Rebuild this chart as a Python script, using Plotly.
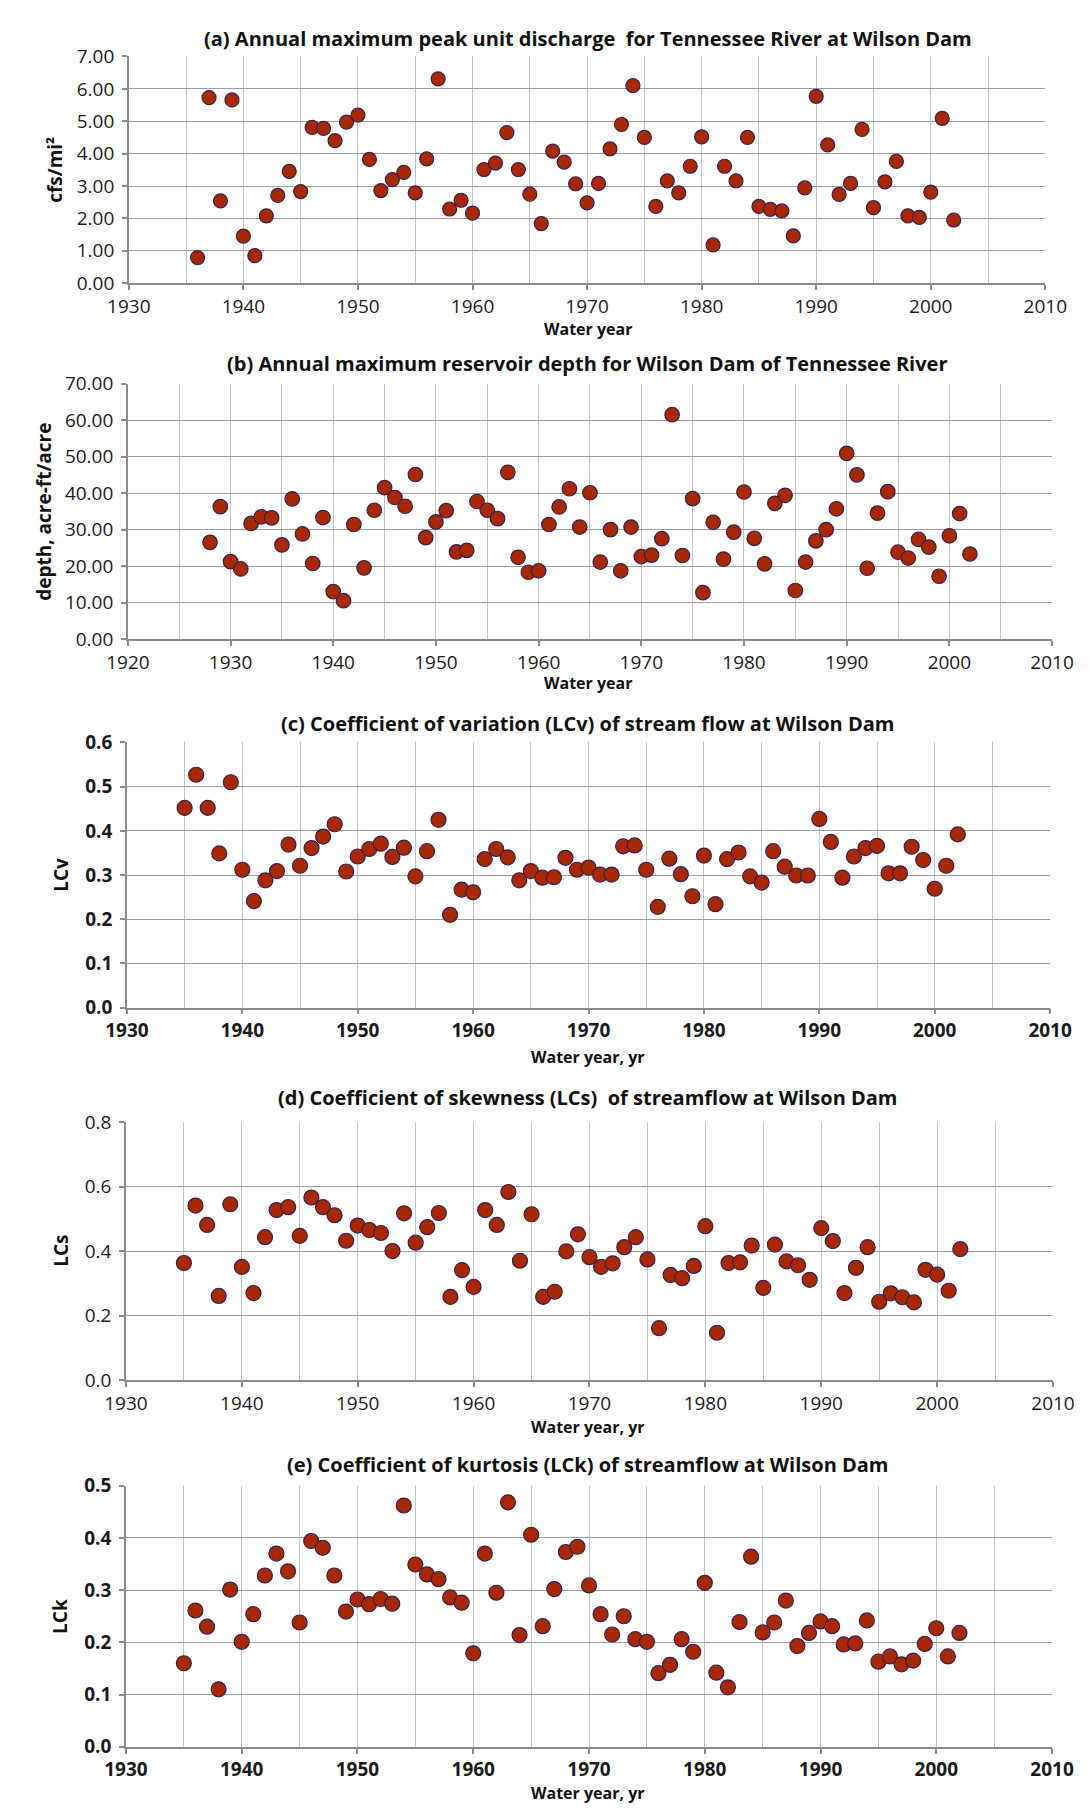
import plotly.graph_objects as go

W, H = 1091, 1809

# ---------------- data ----------------
years_a = list(range(1936, 2003))
peak_discharge = [0.79, 5.73, 2.54, 5.66, 1.45, 0.85, 2.08, 2.71, 3.45, 2.83,
                  4.81, 4.78, 4.40, 4.97, 5.19, 3.82, 2.86, 3.20, 3.42, 2.79,
                  3.84, 6.31, 2.29, 2.56, 2.16, 3.51, 3.71, 4.65, 3.51, 2.75,
                  1.84, 4.08, 3.74, 3.07, 2.48, 3.08, 4.15, 4.90, 6.10, 4.50,
                  2.37, 3.16, 2.79, 3.61, 4.52, 1.18, 3.61, 3.16, 4.50, 2.37,
                  2.28, 2.23, 1.46, 2.94, 5.77, 4.27, 2.74, 3.08, 4.75, 2.33,
                  3.13, 3.76, 2.08, 2.03, 2.81, 5.09, 1.95]

years_b = list(range(1928, 2003))
reservoir_depth = [26.5, 36.3, 21.2, 19.2, 31.7, 33.5, 33.2, 25.8, 38.4, 28.8,
                   20.7, 33.3, 13.0, 10.5, 31.4, 19.5, 35.3, 41.5, 38.8, 36.4,
                   45.1, 27.8, 32.1, 35.2, 23.9, 24.3, 37.7, 35.3, 33.0, 45.7,
                   22.4, 18.3, 18.7, 31.4, 36.2, 41.2, 30.7, 40.1, 21.1, 30.0,
                   18.7, 30.7, 22.6, 23.0, 27.5, 61.5, 22.9, 38.5, 12.7, 32.0,
                   21.9, 29.3, 40.3, 27.6, 20.6, 37.2, 39.4, 13.3, 21.1, 26.9,
                   30.0, 35.7, 50.9, 45.0, 19.4, 34.5, 40.4, 23.8, 22.2, 27.3,
                   25.2, 17.2, 28.3, 34.4, 23.3]

years_l = list(range(1935, 2003))
lcv = [0.452, 0.527, 0.452, 0.349, 0.510, 0.312, 0.241, 0.288, 0.309, 0.369,
       0.321, 0.361, 0.387, 0.415, 0.308, 0.342, 0.359, 0.371, 0.341, 0.362,
       0.297, 0.354, 0.425, 0.210, 0.267, 0.261, 0.336, 0.359, 0.340, 0.288,
       0.309, 0.294, 0.295, 0.339, 0.312, 0.317, 0.301, 0.301, 0.365, 0.367,
       0.312, 0.228, 0.337, 0.302, 0.252, 0.344, 0.234, 0.336, 0.351, 0.297,
       0.283, 0.354, 0.319, 0.299, 0.299, 0.427, 0.375, 0.294, 0.342, 0.361,
       0.366, 0.304, 0.304, 0.364, 0.334, 0.269, 0.321, 0.392]
lcs = [0.363, 0.541, 0.481, 0.261, 0.545, 0.351, 0.270, 0.443, 0.527, 0.536,
       0.447, 0.566, 0.536, 0.511, 0.432, 0.479, 0.465, 0.456, 0.400, 0.517,
       0.426, 0.474, 0.518, 0.258, 0.341, 0.289, 0.527, 0.481, 0.583, 0.370,
       0.514, 0.258, 0.274, 0.399, 0.452, 0.381, 0.351, 0.362, 0.412, 0.443,
       0.374, 0.161, 0.326, 0.316, 0.354, 0.477, 0.147, 0.363, 0.365, 0.417,
       0.286, 0.420, 0.368, 0.356, 0.311, 0.471, 0.431, 0.270, 0.348, 0.412,
       0.243, 0.269, 0.257, 0.241, 0.342, 0.327, 0.277, 0.406]
lck = [0.160, 0.261, 0.230, 0.110, 0.301, 0.201, 0.254, 0.328, 0.370, 0.336,
       0.238, 0.394, 0.381, 0.328, 0.259, 0.282, 0.273, 0.283, 0.274, 0.462,
       0.349, 0.330, 0.321, 0.286, 0.276, 0.179, 0.370, 0.295, 0.468, 0.214,
       0.406, 0.231, 0.302, 0.373, 0.383, 0.309, 0.254, 0.215, 0.250, 0.206,
       0.201, 0.141, 0.157, 0.206, 0.182, 0.314, 0.142, 0.114, 0.239, 0.364,
       0.219, 0.238, 0.280, 0.193, 0.218, 0.240, 0.231, 0.196, 0.198, 0.242,
       0.163, 0.173, 0.158, 0.165, 0.197, 0.227, 0.173, 0.218]

titles = ["(a) Annual maximum peak unit discharge  for Tennessee River at Wilson Dam",
          "(b) Annual maximum reservoir depth for Wilson Dam of Tennessee River",
          "(c) Coefficient of variation (LCv) of stream flow at Wilson Dam",
          "(d) Coefficient of skewness (LCs)  of streamflow at Wilson Dam",
          "(e) Coefficient of kurtosis (LCk) of streamflow at Wilson Dam"]
y_titles = ["cfs/mi\u00b2", "depth, acre-ft/acre", "LCv", "LCs", "LCk"]
x_titles = ["Water year", "Water year", "Water year, yr", "Water year, yr", "Water year, yr"]

# ---------------- layout of panels (pixels) ----------------
panels = [
    dict(x=years_a, y=peak_discharge, px=(103, 1058), py=(36, 266), xr=(1930, 2010),
         yr=(0, 7), dy=1, fmt=".2f", bold=False, ytx=26, xty=312, tty=18, ms=14),
    dict(x=years_b, y=reservoir_depth, px=(102, 1065), py=(368, 627), xr=(1920, 2010),
         yr=(0, 70), dy=10, fmt=".2f", bold=False, ytx=15, xty=672, tty=348, ms=14.5),
    dict(x=years_l, y=lcv, px=(101, 1063), py=(732, 1001), xr=(1930, 2010),
         yr=(0, 0.6), dy=0.1, fmt=".1f", bold=True, ytx=32, xty=1051, tty=713, ms=15),
    dict(x=years_l, y=lcs, px=(100, 1066), py=(1117, 1379), xr=(1930, 2010),
         yr=(0, 0.8), dy=0.2, fmt=".1f", bold=False, ytx=32, xty=1427, tty=1092, ms=15),
    dict(x=years_l, y=lck, px=(100, 1065), py=(1486, 1751), xr=(1930, 2010),
         yr=(0, 0.5), dy=0.1, fmt=".1f", bold=True, ytx=32, xty=1798, tty=1465, ms=15),
]

FONT = "'Open Sans', Lato, sans-serif"
fill = "#A82800"
edge = "#3B1E4F"
TITLE_CX = 581

fig = go.Figure()
annotations = []
for i, p in enumerate(panels):
    n = "" if i == 0 else str(i + 1)
    fig.add_trace(go.Scatter(
        x=p["x"], y=p["y"], mode="markers",
        marker=dict(size=p["ms"], color=fill, line=dict(color=edge, width=1.2)),
        xaxis="x" + n, yaxis="y" + n, showlegend=False, cliponaxis=False))
    xd = [p["px"][0] / W, p["px"][1] / W]
    yd = [1 - p["py"][1] / H, 1 - p["py"][0] / H]
    tf = dict(family=FONT, size=19, color="#1a1a1a",
              weight="bold" if p["bold"] else "normal")
    fig.layout["xaxis" + n] = dict(
        domain=xd, anchor="y" + n, range=list(p["xr"]), tick0=1930, dtick=10,
        showgrid=True, gridcolor="#C4C4C4", gridwidth=1,
        minor=dict(dtick=5, showgrid=True, gridcolor="#C4C4C4", gridwidth=1, ticks=""),
        showline=True, linecolor="#8A8A8A", linewidth=1.5,
        ticks="outside", ticklen=5, tickcolor="#8A8A8A", tickwidth=1.5,
        zeroline=False, tickfont=tf, ticklabelstandoff=0, fixedrange=True)
    fig.layout["yaxis" + n] = dict(
        domain=yd, anchor="x" + n, range=list(p["yr"]), dtick=p["dy"], tick0=0,
        tickformat=p["fmt"], showgrid=True, gridcolor="#9E9E9E", gridwidth=1.4,
        showline=True, linecolor="#8A8A8A", linewidth=1.5,
        ticks="outside", ticklen=5, tickcolor="#8A8A8A", tickwidth=1.5,
        zeroline=False, tickfont=tf, ticklabelstandoff=4, fixedrange=True)
    annotations.append(dict(text="<b>%s</b>" % titles[i], x=TITLE_CX / W, y=1 - p["tty"] / H,
                            xref="paper", yref="paper", showarrow=False,
                            xanchor="center", yanchor="middle",
                            font=dict(family=FONT, size=20, color="#111")))
    annotations.append(dict(text="<b>%s</b>" % x_titles[i], x=TITLE_CX / W, y=1 - p["xty"] / H,
                            xref="paper", yref="paper", showarrow=False,
                            xanchor="center", yanchor="middle",
                            font=dict(family=FONT, size=16, color="#111")))
    annotations.append(dict(text="<b>%s</b>" % y_titles[i], x=p["ytx"] / W,
                            y=1 - (p["py"][0] + p["py"][1]) / 2 / H,
                            xref="paper", yref="paper", showarrow=False, textangle=-90,
                            xanchor="center", yanchor="middle",
                            font=dict(family=FONT, size=19, color="#111")))

fig.update_layout(width=W, height=H, margin=dict(l=0, r=0, t=0, b=0),
                  paper_bgcolor="white", plot_bgcolor="white",
                  annotations=annotations, showlegend=False)
fig.write_html("out.html", config={"displayModeBar": False})
